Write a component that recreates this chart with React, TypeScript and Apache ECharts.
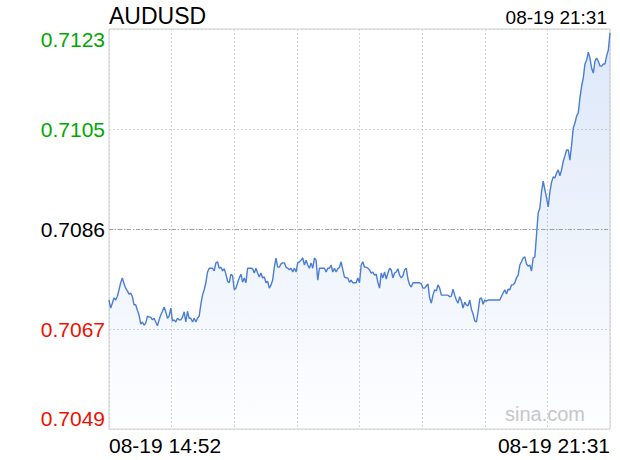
import React, { useEffect, useRef } from "react";
import * as echarts from "echarts";

const symbolName = "AUDUSD";
const lastTime = "08-19 21:31";
const watermark = "sina.com";
const xTickLabels = ["08-19 14:52", "08-19 21:31"];
const yTickValues = [0.70488, 0.70674, 0.7086, 0.71046, 0.71232];
const yTickLabels = ["0.7049", "0.7067", "0.7086", "0.7105", "0.7123"];
const prevClose = 0.7086;

const prices1 = [
  0.70728, 0.70713, 0.70722, 0.70732, 0.70728, 0.70735, 0.70747, 0.7076, 0.70769, 0.70758,
  0.7075, 0.70745, 0.70739, 0.70741, 0.70734, 0.70719, 0.70719, 0.70709, 0.707, 0.70683,
  0.70687, 0.70681, 0.70685, 0.70698, 0.70696, 0.70696, 0.70691, 0.70694, 0.70687, 0.7068,
  0.70691, 0.707, 0.70707, 0.70715, 0.70706, 0.70694, 0.70698, 0.70713, 0.70689, 0.70691,
  0.70687, 0.70694, 0.70691, 0.70691, 0.70696, 0.70706, 0.70687, 0.70707, 0.70694, 0.70694,
  0.70687, 0.70694, 0.70687, 0.70694, 0.70698, 0.7072, 0.70737, 0.70747, 0.7076, 0.7078,
  0.70787, 0.70787, 0.70787, 0.70782, 0.70797, 0.70799, 0.70787, 0.70789, 0.70782, 0.70786,
  0.70776, 0.70763, 0.7076, 0.70776, 0.70773,
];
const prices2 = [
  0.70747, 0.7075, 0.7076, 0.70769, 0.70776, 0.70761, 0.70769, 0.7076, 0.70787, 0.70787,
  0.70787, 0.70786, 0.70778, 0.70787, 0.70778, 0.70771, 0.70778, 0.70769, 0.70771, 0.7076,
  0.70763, 0.7075, 0.70756, 0.70765, 0.70789, 0.70806, 0.70789, 0.70789, 0.70795, 0.70797,
  0.70797, 0.70789, 0.70787, 0.70784, 0.70787, 0.7078, 0.70787, 0.7078, 0.70797, 0.70799,
  0.70802, 0.70806, 0.70793, 0.70802, 0.70793, 0.70787, 0.70797, 0.70787, 0.70806, 0.70802,
  0.70765, 0.70787, 0.70787, 0.70787, 0.70787, 0.7078, 0.70787, 0.70787, 0.70793, 0.7078,
  0.70787, 0.7078, 0.70786, 0.70789, 0.70799, 0.70784, 0.70771, 0.70769, 0.70769, 0.70761,
  0.70765, 0.7076, 0.7076, 0.7076, 0.70769,
];
const prices3 = [
  0.7076, 0.70793, 0.70799, 0.70789, 0.70789, 0.70787, 0.70784, 0.70778, 0.7078, 0.70774,
  0.70776, 0.70761, 0.7075, 0.70778, 0.70769, 0.7078, 0.70767, 0.70778, 0.70787, 0.70784,
  0.70769, 0.70778, 0.7078, 0.70786, 0.70774, 0.70769, 0.70773, 0.70784, 0.70787, 0.70767,
  0.70756, 0.70752, 0.7076, 0.7076, 0.7076, 0.7076, 0.7076, 0.70758, 0.7075, 0.7075,
  0.70754, 0.70758, 0.70732, 0.70722, 0.70737, 0.70747, 0.70745, 0.70756, 0.7075, 0.70737,
  0.70737, 0.70737, 0.70737, 0.70737, 0.70734, 0.70735, 0.70748, 0.70737, 0.70728, 0.70722,
  0.70734, 0.70726, 0.70713, 0.70724, 0.70719, 0.70717, 0.70728, 0.70711, 0.70702, 0.70689,
  0.70687, 0.70706, 0.7073, 0.70732, 0.7072,
];
const prices4 = [
  0.70728, 0.70726, 0.70728, 0.70728, 0.70728, 0.70728, 0.70728, 0.70728, 0.70728, 0.70728,
  0.70735, 0.70741, 0.70747, 0.70739, 0.70748, 0.70747, 0.70756, 0.70756, 0.7076, 0.70769,
  0.70774, 0.70793, 0.70799, 0.70806, 0.70808, 0.70795, 0.70791, 0.70793, 0.70782, 0.70806,
  0.70808, 0.70849, 0.7089, 0.70899, 0.70929, 0.70949, 0.70933, 0.70918, 0.70901, 0.70929,
  0.70947, 0.70957, 0.70955, 0.70964, 0.7097, 0.70959, 0.7097, 0.70986, 0.70996, 0.71007,
  0.71007, 0.70988, 0.71016, 0.71048, 0.71057, 0.7107, 0.71076, 0.71104, 0.71126, 0.71141,
  0.71167, 0.71174, 0.71189, 0.71178, 0.71159, 0.7115, 0.71172, 0.71178, 0.71172, 0.71163,
  0.71163, 0.71167, 0.71167, 0.71182, 0.71193, 0.71225,
];

const FONT = "'Liberation Sans', Arial, Helvetica, sans-serif";

export default function App() {
  const ref = useRef<HTMLDivElement>(null);
  useEffect(() => {
    if (!ref.current) return;
    const chart = echarts.init(ref.current, undefined, { renderer: "svg" });
    const prices = [...prices1, ...prices2, ...prices3, ...prices4];
    const lastIdx = prices.length - 1;
    const data = prices.map((p, i) => [i, p]);
    const labelColor = (v: number) =>
      v > prevClose + 1e-7 ? "#00a800" : v < prevClose - 1e-7 ? "#f01000" : "#000";
    chart.setOption({
      animation: false,
      grid: {
        left: 109,
        right: 10,
        top: 29,
        bottom: 31,
        show: true,
        borderColor: "#d0d0d0",
        borderWidth: 1,
        backgroundColor: "transparent",
      },
      xAxis: {
        type: "value",
        min: 0,
        max: lastIdx,
        interval: lastIdx / 8,
        axisLine: { show: false },
        axisTick: { show: false },
        splitLine: { show: true, lineStyle: { color: "#d4d4d4", type: [2, 2], width: 1 } },
        axisLabel: {
          margin: 6,
          fontSize: 21,
          fontFamily: FONT,
          color: "#000",
          alignMinLabel: "left",
          alignMaxLabel: "right",
          formatter: (v: number) =>
            Math.abs(v) < 1e-6 ? xTickLabels[0] : Math.abs(v - lastIdx) < 1e-6 ? xTickLabels[1] : "",
        },
      },
      yAxis: {
        type: "value",
        min: yTickValues[0],
        max: yTickValues[yTickValues.length - 1],
        interval: yTickValues[1] - yTickValues[0],
        axisLine: { show: false },
        axisTick: { show: false },
        splitLine: { show: true, lineStyle: { color: "#d4d4d4", type: [2, 2], width: 1 } },
        axisLabel: {
          margin: 4,
          fontSize: 21,
          fontFamily: FONT,
          verticalAlignMinLabel: "bottom",
          verticalAlignMaxLabel: "top",
          color: (v: any) => labelColor(Number(v)),
          formatter: (v: number) => {
            let best = 0;
            for (let i = 1; i < yTickValues.length; i++) {
              if (Math.abs(yTickValues[i] - v) < Math.abs(yTickValues[best] - v)) best = i;
            }
            return yTickLabels[best];
          },
        },
      },
      graphic: [
        {
          type: "text",
          x: 109,
          y: 16,
          style: { text: symbolName, font: `23px ${FONT}`, fill: "#000", textAlign: "left", textVerticalAlign: "middle" },
        },
        {
          type: "text",
          x: 607,
          y: 17,
          style: { text: lastTime, font: `19px ${FONT}`, fill: "#000", textAlign: "right", textVerticalAlign: "middle" },
        },
        {
          type: "text",
          x: 585,
          y: 414,
          z: 0,
          style: { text: watermark, font: `20px ${FONT}`, fill: "#c8c8c8", textAlign: "right", textVerticalAlign: "middle" },
        },
      ],
      series: [
        {
          type: "line",
          data,
          symbol: "none",
          showSymbol: false,
          lineStyle: { color: "#4a7dd4", width: 1.4 },
          itemStyle: { color: "#4a7dd4" },
          areaStyle: {
            color: new echarts.graphic.LinearGradient(0, 0, 0, 1, [
              { offset: 0, color: "rgba(80,135,225,0.28)" },
              { offset: 1, color: "rgba(80,135,225,0.01)" },
            ]),
          },
          markLine: {
            silent: true,
            symbol: "none",
            label: { show: false },
            lineStyle: { color: "#a0a0a0", type: [4, 2, 1, 2], width: 1 },
            data: [[{ coord: [0, prevClose] }, { coord: [lastIdx, prevClose] }]],
          },
        },
      ],
    });
    return () => chart.dispose();
  }, []);
  return (
    <div
      ref={ref}
      style={{ position: "absolute", left: 0, top: 0, width: 620, height: 460, background: "#fff" }}
    />
  );
}
